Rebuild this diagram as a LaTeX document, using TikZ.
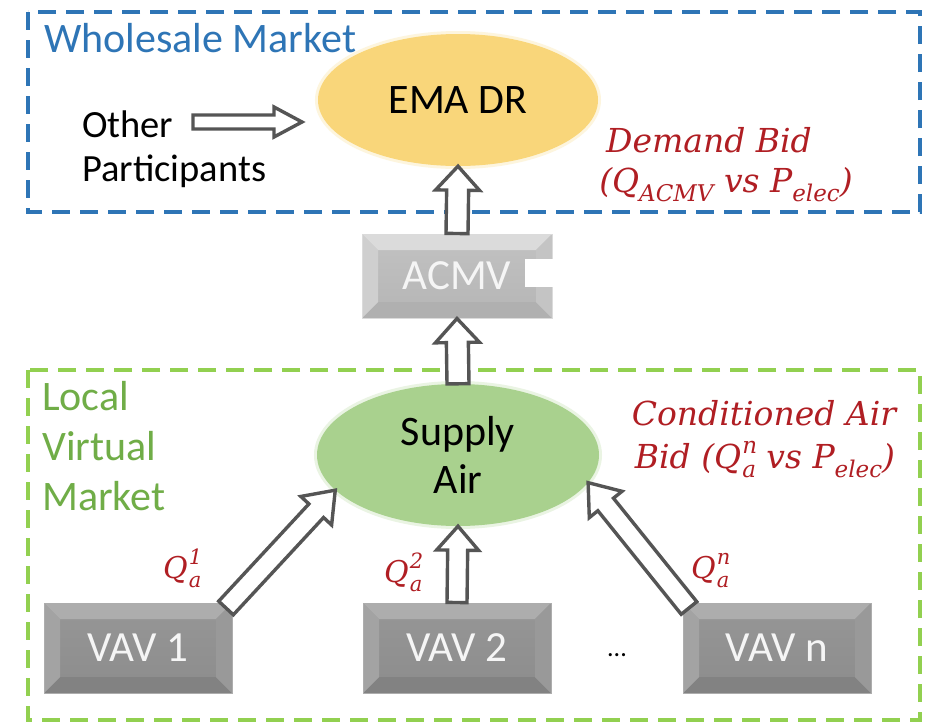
\documentclass[tikz,border=0pt]{standalone}
\usepackage{fontspec}
\setmainfont{Carlito}
\newfontfamily\bidfont{DejaVu Serif}
\usetikzlibrary{shapes.geometric,calc}

\definecolor{wmblue}{HTML}{2E75B6}
\definecolor{lvgreen}{HTML}{92D050}
\definecolor{lvtext}{HTML}{70AD47}
\definecolor{bidred}{HTML}{B01E23}
\definecolor{emafill}{HTML}{F9D67A}
\definecolor{supfill}{HTML}{A9D18E}
\definecolor{arrowline}{HTML}{555555}

% Q with a stacked superscript (#2) and subscript (#3), script size #1
\newcommand\qsub[3][21]{Q\kern1pt\rlap{\raisebox{0.45em}{\fontsize{#1}{#1}\selectfont #2}}%
  \raisebox{-0.3em}{\fontsize{#1}{#1}\selectfont #3}}
% lowered subscript for the bid labels
\newcommand\bsub[1]{\raisebox{-0.3em}{\fontsize{23}{23}\selectfont #1}}

% hollow block arrow: tail, tip, half shaft width, half head width, head length
\newcommand\blockarrow[5]{%
  \coordinate (ba-p) at ($(#2)!#5!(#1)$);
  \draw[blockline]
    ($(#1)!#3!-90:(#2)$) -- ($(ba-p)!#3!90:(#1)$) -- ($(ba-p)!#4!90:(#1)$) --
    (#2) -- ($(ba-p)!#4!-90:(#1)$) -- ($(ba-p)!#3!-90:(#1)$) --
    ($(#1)!#3!90:(#2)$) -- cycle;}

\tikzset{
  blockline/.style={draw=arrowline, fill=white, line width=3.4pt, line join=miter},
  marketframe/.style={line width=4pt, dash pattern=on 18pt off 10pt},
  labeltext/.style={font=\fontsize{42}{48}\selectfont, inner sep=0pt},
  bidtext/.style={font=\bidfont\itshape\fontsize{33}{40}\selectfont, text=bidred, inner sep=0pt},
  qlabel/.style={font=\bidfont\itshape\fontsize{30}{32}\selectfont, text=bidred, inner sep=0pt},
  % beveled box: face top, face bottom, top bevel, bottom bevel, left bevel, right bevel
  bevelbox/.style n args={6}{rectangle, inner sep=0pt, text=white!96!black,
    font=\fontsize{43}{48}\selectfont,
    top color=#1, bottom color=#2, draw=#3, line width=1pt,
    path picture={
      \path (path picture bounding box.north west) coordinate (bbnw)
            (path picture bounding box.north east) coordinate (bbne)
            (path picture bounding box.south west) coordinate (bbsw)
            (path picture bounding box.south east) coordinate (bbse);
      \fill[#3] (bbnw) -- (bbne) -- ([shift={(-16pt,-16pt)}]bbne) -- ([shift={(16pt,-16pt)}]bbnw) -- cycle;
      \fill[#4] (bbsw) -- (bbse) -- ([shift={(-16pt,16pt)}]bbse) -- ([shift={(16pt,16pt)}]bbsw) -- cycle;
      \fill[#5] (bbnw) -- ([shift={(16pt,-16pt)}]bbnw) -- ([shift={(16pt,16pt)}]bbsw) -- (bbsw) -- cycle;
      \fill[#6] (bbne) -- ([shift={(-16pt,-16pt)}]bbne) -- ([shift={(-16pt,16pt)}]bbse) -- (bbse) -- cycle;
    }},
  acmvbox/.style={bevelbox={gray!48}{gray!58}{gray!28}{gray!62}{gray!38}{gray!46},
    minimum width=190pt, minimum height=84pt},
  vavbox/.style={bevelbox={gray!82}{gray!90}{gray!64}{gray!98}{gray!72}{gray!80},
    minimum width=188pt, minimum height=90pt},
}

\begin{document}
\begin{tikzpicture}[x=1pt,y=-1pt]
\useasboundingbox (0,0) rectangle (930,724);
\fill[white] (0,0) rectangle (930,724);

% market frames
\draw[marketframe, wmblue] (28,12) rectangle (920,212);
\draw[marketframe, lvgreen] (28,370) rectangle (920,720);
\node[labeltext, anchor=base west, text=wmblue] (wholesale) at (44,52) {Wholesale Market};
\node[labeltext, anchor=base west, text=lvtext] (local) at (42,410) {Local};
\node[labeltext, anchor=base west, text=lvtext] (virtual) at (42,460) {Virtual};
\node[labeltext, anchor=base west, text=lvtext] (market) at (42,510) {Market};

% wholesale market
\draw[emafill!25, line width=6pt] (458,100) ellipse [x radius=140, y radius=66];
\node[ellipse, fill=emafill, minimum width=280pt, minimum height=132pt, labeltext] (ema) at (458,100) {EMA DR};
\node[labeltext, anchor=base west, font=\fontsize{38.5}{44}\selectfont] (other) at (82,137) {Other};
\node[labeltext, anchor=base west, font=\fontsize{38.5}{44}\selectfont] (participants) at (82,181) {Participants};
\coordinate (otail) at (193,122);
\coordinate (otip) at (302,122);
\blockarrow{otail}{otip}{7pt}{15pt}{28pt}
\node[bidtext, anchor=base] (demand) at (709,152) {Demand Bid};
\node[bidtext, anchor=base] (demandq) at (726,192) {(Q\bsub{ACMV} vs P\bsub{elec})};

% ACMV
\node[acmvbox] (acmv) at (457,276) {ACMV};
\fill[white] (525,259) rectangle (553,287);

% local virtual market
\draw[supfill!25, line width=6pt] (458,455) ellipse [x radius=141, y radius=71];
\node[ellipse, fill=supfill, minimum width=282pt, minimum height=142pt, labeltext,
      align=center, font=\fontsize{42}{48}\selectfont] (supply) at (458,455) {Supply\\Air};
\node[bidtext, anchor=base] (condair) at (764,425) {Conditioned Air};
\node[bidtext, anchor=base] (condbid) at (765,468) {Bid (\qsub[23]{n}{a} vs P\bsub{elec})};

\node[vavbox] (vav1) at (138,648) {VAV 1};
\node[vavbox] (vav2) at (457,648) {VAV 2};
\node[vavbox] (vavn) at (777,648) {VAV n};
\node[labeltext, font=\fontsize{26}{30}\selectfont] (dots) at (617,655) {...};

% bids flowing upwards
\coordinate (t1) at (226,608);
\coordinate (tn) at (689,608);
\blockarrow{acmv.north}{ema.south}{11pt}{22pt}{24pt}
\blockarrow{supply.north}{acmv.south}{11pt}{22pt}{24pt}
\blockarrow{vav2.north}{supply.south}{10pt}{21pt}{24pt}
\blockarrow{t1}{supply.196}{10pt}{21pt}{28pt}
\blockarrow{tn}{supply.348}{10pt}{21pt}{28pt}

\node[qlabel, anchor=base west] (q1) at (163,578) {\qsub{1}{a}};
\node[qlabel, anchor=base west] (q2) at (384,582) {\qsub{2}{a}};
\node[qlabel, anchor=base west] (qn) at (691,578) {\qsub{n}{a}};
\end{tikzpicture}
\end{document}
